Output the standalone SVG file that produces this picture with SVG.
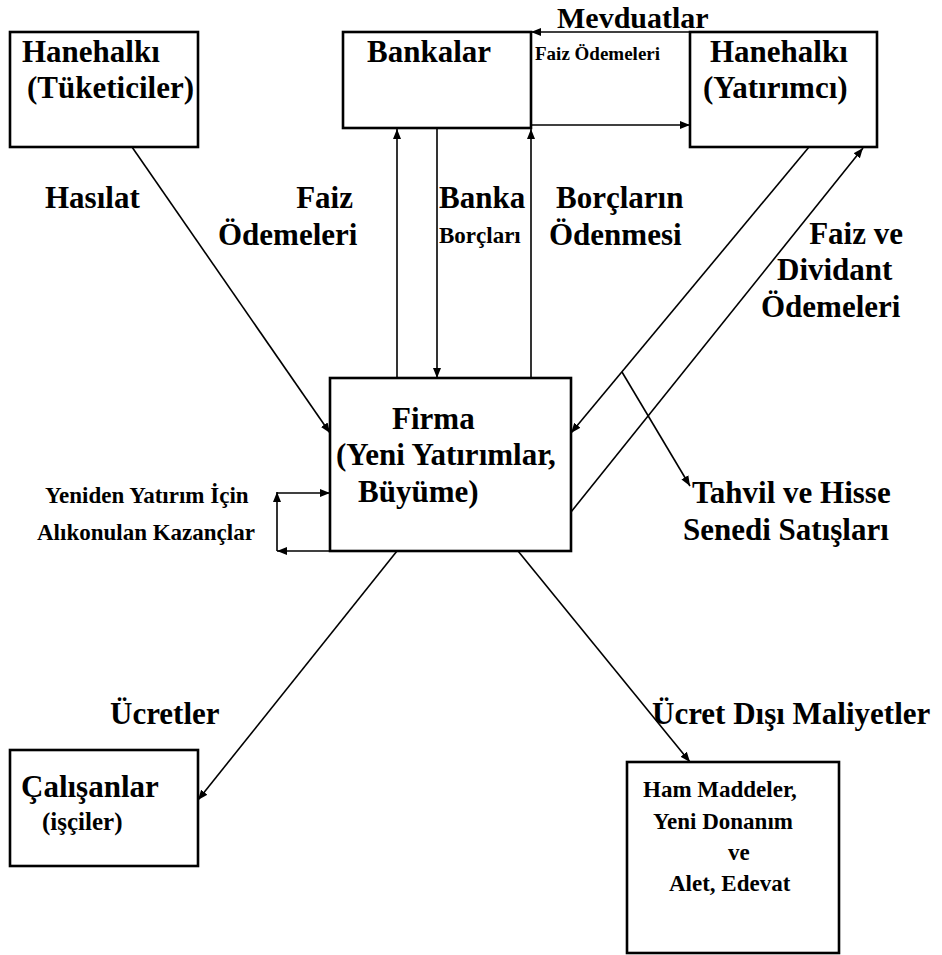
<svg xmlns="http://www.w3.org/2000/svg" width="942" height="955" viewBox="0 0 942 955" font-family="'Liberation Serif', Tinos, 'Times New Roman', 'DejaVu Serif', serif">
<defs>
<style>
text{font-family:'Liberation Serif', Tinos, 'Times New Roman', 'DejaVu Serif', serif;font-weight:bold;fill:#000}
.L{font-size:31px}
.M{font-size:23px}
.S{font-size:19px}
.box{fill:#fff;stroke:#000;stroke-width:2.6}
.c{stroke:#000;stroke-width:1.6;fill:none}
.a{marker-end:url(#ah)}
</style>
<marker id="ah" viewBox="0 0 10 10" refX="10" refY="5" markerWidth="10" markerHeight="10" markerUnits="userSpaceOnUse" orient="auto">
<path d="M0,1 L10,5 L0,9 Z" fill="#000"/>
</marker>
</defs>
<rect width="942" height="955" fill="#fff"/>

<g id="hanehalki-tuketiciler">
<rect class="box" x="10" y="32" width="188" height="115"/>
<text class="L" x="22" y="62">Hanehalkı</text>
<text class="L" x="27" y="98">(Tüketiciler)</text>
</g>

<g id="bankalar">
<rect class="box" x="343" y="32" width="188" height="96"/>
<text class="L" x="367" y="62">Bankalar</text>
</g>

<g id="hanehalki-yatirimci">
<rect class="box" x="690" y="32" width="187" height="115"/>
<text class="L" x="710" y="62">Hanehalkı</text>
<text class="L" x="703" y="98">(Yatırımcı)</text>
</g>

<g id="firma">
<rect class="box" x="330" y="378" width="241" height="173"/>
<text class="L" x="392" y="429">Firma</text>
<text class="L" x="336" y="465">(Yeni Yatırımlar,</text>
<text class="L" x="358" y="502">Büyüme)</text>
</g>

<g id="calisanlar">
<rect class="box" x="10" y="750" width="188" height="116"/>
<text class="L" x="21" y="797">Çalışanlar</text>
<text x="42" y="830" style="font-size:25px">(işçiler)</text>
</g>

<g id="ham-maddeler">
<rect class="box" x="627" y="762" width="212" height="191"/>
<text class="M" x="643" y="797">Ham Maddeler,</text>
<text class="M" x="653" y="829">Yeni Donanım</text>
<text class="M" x="728" y="860">ve</text>
<text class="M" x="669" y="891">Alet, Edevat</text>
</g>

<g id="connectors">
<line class="c a" x1="690" y1="32" x2="531" y2="32"/>
<line class="c a" x1="531" y1="125" x2="690" y2="125"/>
<line class="c a" x1="132" y1="147" x2="330" y2="433"/>
<line class="c a" x1="397" y1="378" x2="397" y2="129"/>
<line class="c a" x1="437" y1="129" x2="437" y2="378"/>
<line class="c a" x1="531" y1="378" x2="531" y2="129"/>
<line class="c a" x1="809" y1="147" x2="571" y2="433"/>
<line class="c a" x1="571" y1="512" x2="863" y2="148"/>
<line class="c a" x1="622" y1="372" x2="690" y2="486"/>
<line class="c a" x1="330" y1="551" x2="277" y2="551"/>
<line class="c a" x1="277" y1="551" x2="277" y2="492"/>
<line class="c a" x1="277" y1="493" x2="330" y2="493"/>
<line class="c a" x1="397" y1="551" x2="198" y2="800"/>
<line class="c a" x1="518" y1="551" x2="690" y2="762"/>
</g>

<g id="labels">
<text x="557" y="28" style="font-size:30px">Mevduatlar</text>
<text class="S" x="535" y="60">Faiz Ödemeleri</text>
<text class="L" x="45" y="208">Hasılat</text>
<text class="L" x="353" y="208" text-anchor="end">Faiz</text>
<text class="L" x="218" y="245">Ödemeleri</text>
<text class="L" x="439" y="208">Banka</text>
<text class="M" x="439" y="243">Borçları</text>
<text class="L" x="556" y="208">Borçların</text>
<text class="L" x="549" y="245">Ödenmesi</text>
<text class="L" x="903" y="244" text-anchor="end">Faiz ve</text>
<text class="L" x="777" y="280">Dividant</text>
<text class="L" x="761" y="317">Ödemeleri</text>
<text class="M" x="45" y="503">Yeniden Yatırım İçin</text>
<text class="M" x="37" y="540">Alıkonulan Kazançlar</text>
<text class="L" x="692" y="503">Tahvil ve Hisse</text>
<text class="L" x="683" y="540">Senedi Satışları</text>
<text class="L" x="110" y="724">Ücretler</text>
<text class="L" x="652" y="724">Ücret Dışı Maliyetler</text>
</g>
</svg>
